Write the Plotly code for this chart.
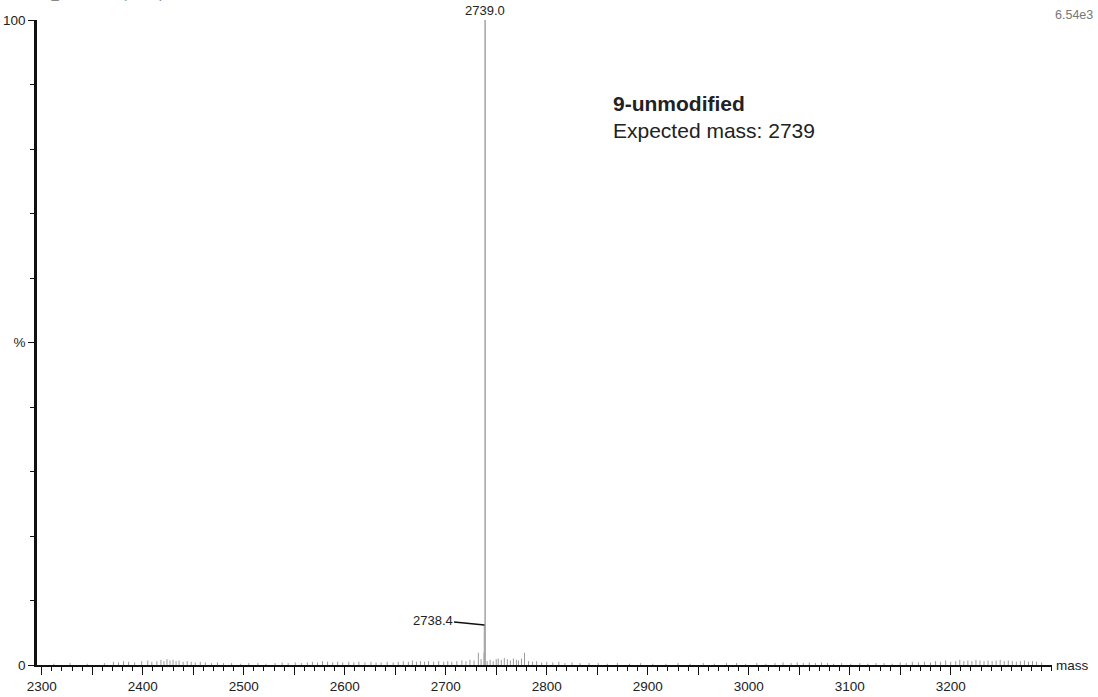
import plotly.graph_objects as go

# Main peaks (m/z, relative intensity %)
main_mass = [2739.0, 2738.4]
main_int = [100.0, 6.2]

# Minor peaks and baseline noise (m/z, relative intensity %)
noise_mass = [
    2312, 2328, 2345, 2362, 2371, 2376, 2381, 2386, 2392, 2399, 2405, 2409, 2414,
    2418, 2421, 2424, 2427, 2430, 2433, 2436, 2440, 2444, 2448, 2452, 2457, 2462,
    2468, 2474, 2480, 2488, 2497, 2505, 2514, 2522, 2531, 2538, 2544, 2551, 2557,
    2563, 2568, 2573, 2578, 2583, 2588, 2593, 2598, 2604, 2609, 2614, 2620, 2626,
    2631, 2636, 2642, 2648, 2653, 2658, 2663, 2667, 2671, 2675, 2679, 2683, 2688,
    2693, 2698, 2702, 2706, 2711, 2716, 2720, 2724, 2728, 2732.3, 2735, 2737.9,
    2741, 2744, 2747, 2750, 2752, 2755, 2758, 2761, 2764, 2767, 2770, 2772, 2775,
    2778, 2782, 2786, 2790, 2795, 2800, 2806, 2812, 2818, 2825, 2833, 2842, 2851,
    2860, 2870, 2882, 2893, 2905, 2918, 2930, 2942, 2955, 2966, 2978, 2988, 2997,
    3008, 3017, 3026, 3034, 3042, 3048, 3054, 3060, 3066, 3072, 3078, 3084, 3092,
    3101, 3110, 3118, 3126, 3134, 3142, 3150, 3156, 3162, 3168, 3174, 3180, 3185,
    3190, 3195, 3200, 3205, 3209, 3213, 3217, 3221, 3225, 3229, 3233, 3237, 3241,
    3245, 3249, 3253, 3257, 3261, 3265, 3269, 3273, 3277, 3281, 3285, 3290,
]
noise_int = [
    0.2, 0.3, 0.2, 0.3, 0.5, 0.4, 0.6, 0.5, 0.4, 0.6, 0.7, 0.5, 0.6,
    0.8, 0.6, 0.9, 0.7, 0.8, 0.6, 0.7, 0.5, 0.6, 0.5, 0.4, 0.5, 0.4,
    0.3, 0.4, 0.3, 0.3, 0.2, 0.3, 0.3, 0.2, 0.3, 0.4, 0.3, 0.4, 0.3,
    0.4, 0.5, 0.4, 0.6, 0.5, 0.4, 0.5, 0.4, 0.5, 0.4, 0.5, 0.4, 0.5,
    0.4, 0.4, 0.5, 0.4, 0.5, 0.6, 0.5, 0.7, 0.5, 0.6, 0.5, 0.6, 0.5,
    0.6, 0.5, 0.6, 0.5, 0.6, 0.7, 0.6, 0.8, 0.7, 1.9, 0.9, 1.9,
    0.6, 0.8, 0.6, 0.9, 1.0, 0.8, 1.1, 0.9, 0.7, 1.0, 0.8, 0.7, 1.0,
    1.9, 0.6, 0.5, 0.6, 0.4, 0.5, 0.4, 0.5, 0.3, 0.4, 0.3, 0.3, 0.3,
    0.2, 0.3, 0.2, 0.3, 0.2, 0.2, 0.3, 0.2, 0.3, 0.2, 0.3, 0.3, 0.2,
    0.3, 0.2, 0.3, 0.4, 0.3, 0.4, 0.3, 0.4, 0.3, 0.4, 0.3, 0.2, 0.3,
    0.2, 0.3, 0.2, 0.3, 0.3, 0.2, 0.4, 0.3, 0.5, 0.4, 0.5, 0.4, 0.6,
    0.5, 0.7, 0.5, 0.6, 0.8, 0.6, 0.7, 0.6, 0.8, 0.7, 0.6, 0.7, 0.6,
    0.7, 0.8, 0.6, 0.7, 0.6, 0.5, 0.6, 0.7, 0.5, 0.6, 0.5, 0.4,
]

x_ticks = list(range(2300, 3201, 50))
x_labels = [str(v) if v % 100 == 0 else "" for v in x_ticks]
y_ticks = [0, 50, 100]
y_labels = ["0", "%", "100"]


def sticks(masses, intens):
    xs, ys = [], []
    for m, h in zip(masses, intens):
        xs += [m, m, None]
        ys += [0, h, None]
    return xs, ys


fig = go.Figure()

nx, ny = sticks(noise_mass, noise_int)
fig.add_trace(go.Scatter(x=nx, y=ny, mode="lines",
                         line=dict(color="#9a9a9a", width=1), hoverinfo="skip"))
mx, my = sticks(main_mass, main_int)
fig.add_trace(go.Scatter(x=mx, y=my, mode="lines",
                         line=dict(color="#a8a8a8", width=1.6), hoverinfo="skip"))

fam = "Liberation Sans, Arial, sans-serif"
font = dict(family=fam, color="#222222")
grey = dict(family=fam, color="#777777")

annotations = [
    dict(x=main_mass[0], y=main_int[0], xref="x", yref="y", text=f"{main_mass[0]:.1f}",
         showarrow=False, yanchor="bottom", yshift=0, font=dict(size=13, **font)),
    dict(x=main_mass[1], y=main_int[1], xref="x", yref="y", text=f"{main_mass[1]:.1f}",
         showarrow=True, arrowhead=0, arrowwidth=1.5, arrowcolor="#111111",
         ax=-52, ay=-5, font=dict(size=13, **font)),
    dict(x=0.5655, y=0.871, xref="paper", yref="paper", text="<b>9-unmodified</b>",
         showarrow=False, xanchor="left", yanchor="middle", font=dict(size=21, **font)),
    dict(x=0.5655, y=0.828, xref="paper", yref="paper", text="Expected mass: 2739",
         showarrow=False, xanchor="left", yanchor="middle", font=dict(size=21, **font)),
    dict(x=1.002, y=0.0, xref="paper", yref="paper", text="mass",
         showarrow=False, xanchor="left", yanchor="middle",
         font=dict(size=13.5, **font)),
    dict(x=1.0424, y=1.008, xref="paper", yref="paper", text="6.54e3",
         showarrow=False, xanchor="right", yanchor="middle",
         font=dict(size=12.5, **grey)),
    dict(x=1.035, y=1.0233, xref="paper", yref="paper", text="TOF MS LD+",
         showarrow=False, xanchor="right", yanchor="bottom", yshift=9,
         font=dict(size=12.5, **grey)),
    dict(x=-0.037, y=1.0233, xref="paper", yref="paper", text="0408222_UNMOD 1 (0.766)",
         showarrow=False, xanchor="left", yanchor="bottom", yshift=2,
         font=dict(size=13, **grey)),
]

fig.update_layout(
    width=1098, height=697,
    margin=dict(l=37, r=46, t=20, b=32, autoexpand=False),
    paper_bgcolor="white", plot_bgcolor="white",
    showlegend=False,
    annotations=annotations,
    xaxis=dict(
        range=[2295.3, 3300.3], showgrid=False, zeroline=False, automargin=False,
        showline=True, linecolor="#111111", linewidth=2,
        tickmode="array", tickvals=x_ticks, ticktext=x_labels,
        ticks="outside", ticklen=8, tickwidth=1, tickcolor="#111111",
        tickfont=dict(size=13.5, **font),
        minor=dict(dtick=10, tick0=2300, ticks="outside", ticklen=4,
                   tickwidth=1, tickcolor="#111111", showgrid=False),
    ),
    yaxis=dict(
        range=[0, 100], showgrid=False, zeroline=False, automargin=False,
        showline=True, linecolor="#111111", linewidth=2.5,
        tickmode="array", tickvals=y_ticks, ticktext=y_labels,
        ticks="outside", ticklen=6, tickwidth=1, tickcolor="#111111",
        tickfont=dict(size=13.5, **font),
        minor=dict(dtick=10, tick0=0, ticks="outside", ticklen=4,
                   tickwidth=1, tickcolor="#111111", showgrid=False),
    ),
)

fig.write_html("out.html")
